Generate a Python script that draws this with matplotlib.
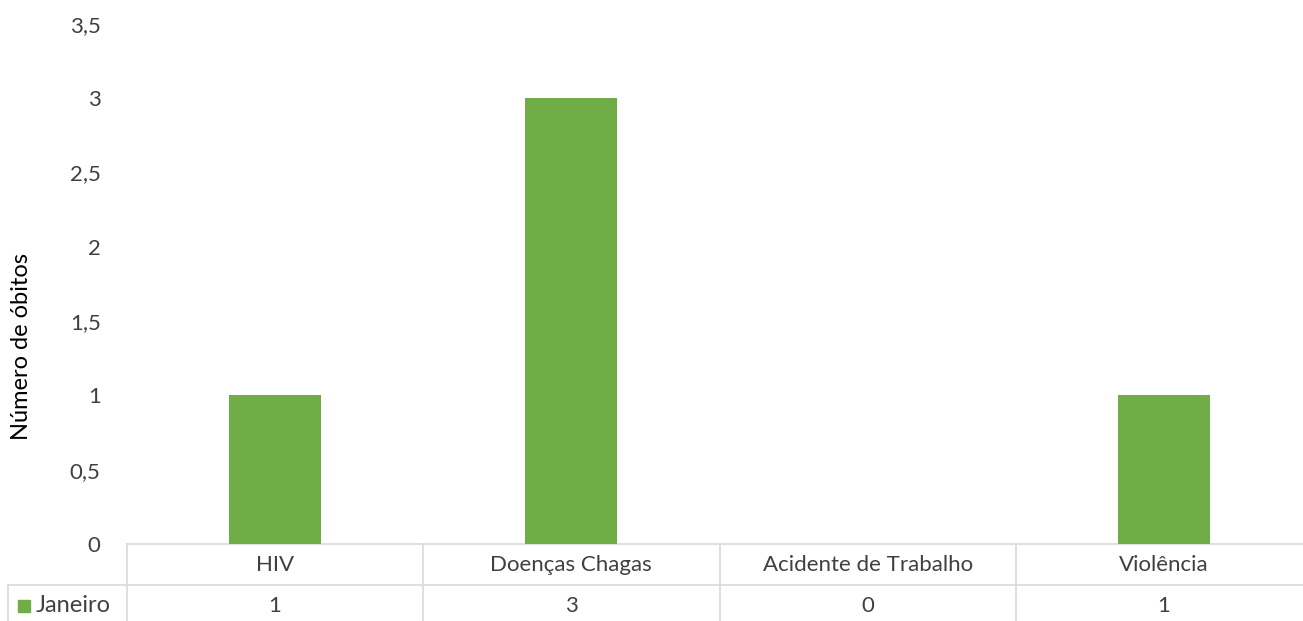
import matplotlib.pyplot as plt
from matplotlib.transforms import blended_transform_factory
from matplotlib.patches import Rectangle

categories = ['HIV', 'Doenças Chagas', 'Acidente de Trabalho', 'Violência']
janeiro = [1, 3, 0, 1]
series_name = 'Janeiro'
y_ticks = [0, 0.5, 1, 1.5, 2, 2.5, 3, 3.5]

green = '#70AD47'
grid_gray = '#D9D9D9'
text_col = '#404040'
fs = 16

plt.rcParams['font.family'] = ['Lato', 'DejaVu Sans']

W, H = 1303, 621
fig = plt.figure(figsize=(W / 100, H / 100), dpi=100)
ax = fig.add_axes([127 / W, 77 / H, 1185 / W, 520 / H])

x = list(range(len(categories)))
ax.bar(x, janeiro, width=0.31, color=green, zorder=3)
ax.set_xlim(-0.5, len(categories) - 0.5)
ax.set_ylim(0, 3.5)
ax.set_yticks(y_ticks)
ax.set_yticklabels([('%g' % t).replace('.', ',') for t in y_ticks],
                   fontsize=fs, color=text_col)
ax.tick_params(axis='y', length=0, pad=19)
ax.set_xticks([])
for s in ['top', 'right', 'left']:
    ax.spines[s].set_visible(False)
ax.spines['bottom'].set_color(grid_gray)
ax.spines['bottom'].set_linewidth(1.2)
fig.text(22 / W, 1 - 347 / H, 'Número de óbitos', rotation=90,
         ha='center', va='center', fontsize=17, color='black')

# data table below the axis
tr = blended_transform_factory(ax.transData, fig.transFigure)
y_top = 77 / H
y_mid = 36 / H
y_bot = -5 / H
for b in [i - 0.5 for i in range(len(categories) + 1)]:
    ax.plot([b, b], [y_top, y_bot], color=grid_gray, lw=1.2,
            transform=tr, clip_on=False)
ax.plot([-0.5, len(categories) - 0.5], [y_mid, y_mid], color=grid_gray,
        lw=1.2, transform=tr, clip_on=False)
fig.add_artist(plt.Line2D([8 / W, 127 / W], [y_mid, y_mid], color=grid_gray, lw=1.2))
fig.add_artist(plt.Line2D([8 / W, 8 / W], [y_mid, y_bot], color=grid_gray, lw=1.2))

for i, (c, v) in enumerate(zip(categories, janeiro)):
    ax.text(i, 56 / H, c, transform=tr, ha='center', va='center',
            fontsize=fs, color=text_col, clip_on=False)
    ax.text(i, 15 / H, str(v), transform=tr, ha='center', va='center',
            fontsize=fs, color=text_col, clip_on=False)

fig.add_artist(Rectangle((18 / W, 9 / H), 12 / W, 12 / H, color=green,
                         transform=fig.transFigure))
fig.text(36 / W, 15 / H, series_name, ha='left', va='center',
         fontsize=17, color=text_col)

fig.savefig('out.png', dpi=100)
